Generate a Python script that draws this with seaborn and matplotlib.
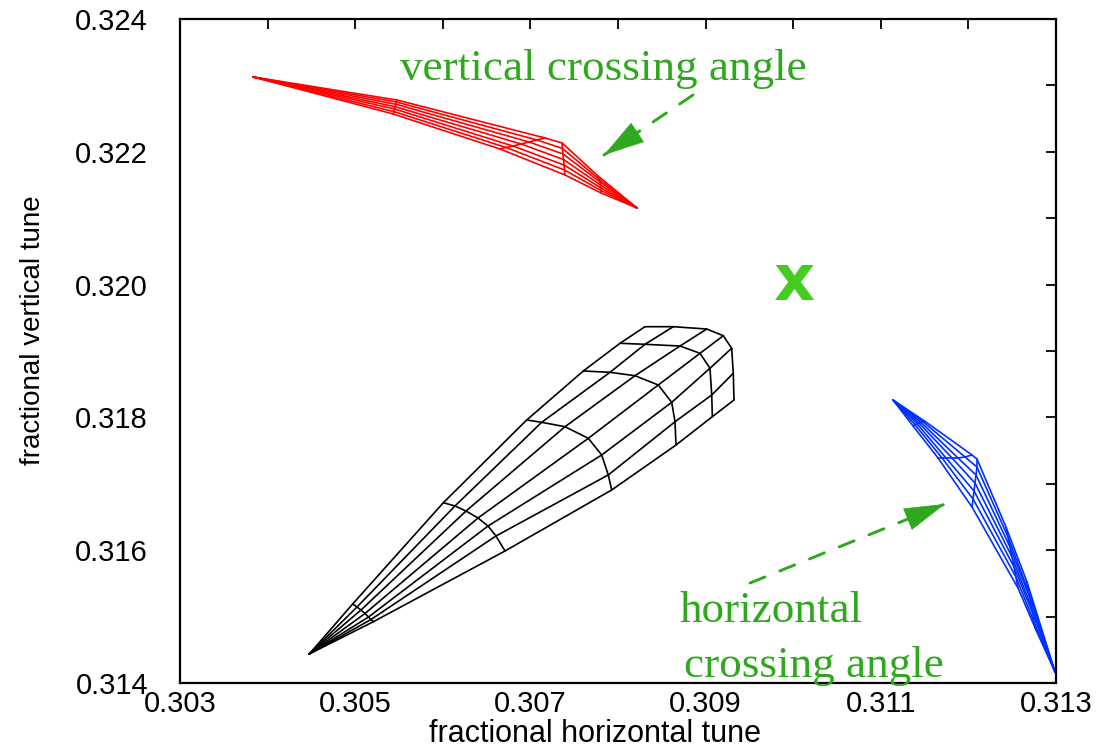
import matplotlib
matplotlib.use("Agg")
import matplotlib.pyplot as plt
import pandas as pd
import seaborn as sns

# ---------------- data ----------------
x_tick_values = [0.303, 0.305, 0.307, 0.309, 0.311, 0.313]
x_tick_labels = ["0.303", "0.305", "0.307", "0.309", "0.311", "0.313"]
x_minor_values = [0.304, 0.306, 0.308, 0.310, 0.312]
y_tick_values = [0.314, 0.316, 0.318, 0.320, 0.322, 0.324]
y_tick_labels = ["0.314", "0.316", "0.318", "0.320", "0.322", "0.324"]
y_minor_values = [0.315, 0.317, 0.319, 0.321, 0.323]

# footprints: each row is one amplitude arc, each column one angle ray
black_qx = [
    [0.304476] * 7,
    [0.304971, 0.305021, 0.305066, 0.305112, 0.305152, 0.305180, 0.305207],
    [0.306006, 0.306139, 0.306265, 0.306402, 0.306516, 0.306607, 0.306710],
    [0.306958, 0.307129, 0.307395, 0.307661, 0.307814, 0.307889, 0.307928],
    [0.307604, 0.307909, 0.308194, 0.308460, 0.308613, 0.308651, 0.308662],
    [0.308023, 0.308308, 0.308708, 0.308936, 0.309050, 0.309070, 0.309077],
    [0.308308, 0.308631, 0.309013, 0.309202, 0.309298, 0.309316, 0.309324],
]
black_qy = [
    [0.314437] * 7,
    [0.315190, 0.315145, 0.315099, 0.315047, 0.314994, 0.314956, 0.314923],
    [0.316715, 0.316666, 0.316590, 0.316485, 0.316364, 0.316214, 0.315988],
    [0.317961, 0.317926, 0.317860, 0.317685, 0.317434, 0.317133, 0.316907],
    [0.318699, 0.318679, 0.318628, 0.318488, 0.318227, 0.317935, 0.317584],
    [0.319116, 0.319101, 0.319075, 0.318965, 0.318740, 0.318337, 0.318011],
    [0.319366, 0.319366, 0.319331, 0.319230, 0.319041, 0.318664, 0.318262],
]

red_qx = [
    [0.303833] * 7,
    [0.305477, 0.305470, 0.305466, 0.305454, 0.305449, 0.305443, 0.305432],
    [0.307167, 0.307075, 0.306984, 0.306893, 0.306801, 0.306722, 0.306653],
    [0.307361, 0.307366, 0.307372, 0.307378, 0.307384, 0.307389, 0.307395],
    [0.307772, 0.307783, 0.307795, 0.307800, 0.307806, 0.307806, 0.307806],
    [0.308217] * 7,
]
red_qy = [
    [0.323127] * 7,
    [0.322780, 0.322750, 0.322715, 0.322680, 0.322645, 0.322605, 0.322570],
    [0.322208, 0.322178, 0.322148, 0.322118, 0.322087, 0.322065, 0.322042],
    [0.322133, 0.322050, 0.321967, 0.321884, 0.321801, 0.321726, 0.321651],
    [0.321636, 0.321590, 0.321545, 0.321500, 0.321455, 0.321417, 0.321380],
    [0.321154] * 7,
]

blue_qx = [
    [0.311139] * 7,
    [0.311505, 0.311482, 0.311459, 0.311436, 0.311413, 0.311390, 0.311368],
    [0.312041, 0.311961, 0.311881, 0.311813, 0.311744, 0.311699, 0.311653],
    [0.312098, 0.312098, 0.312087, 0.312075, 0.312064, 0.312053, 0.312041],
    [0.312429, 0.312452, 0.312475, 0.312498, 0.312521, 0.312543, 0.312566],
    [0.312669, 0.312680, 0.312703, 0.312715, 0.312737, 0.312749, 0.312772],
    [0.312989] * 7,
]
blue_qy = [
    [0.318262] * 7,
    [0.317940, 0.317935, 0.317925, 0.317915, 0.317905, 0.317890, 0.317871],
    [0.317434, 0.317404, 0.317389, 0.317389, 0.317389, 0.317389, 0.317389],
    [0.317373, 0.317253, 0.317133, 0.317012, 0.316892, 0.316771, 0.316651],
    [0.316349, 0.316199, 0.316048, 0.315898, 0.315747, 0.315596, 0.315431],
    [0.315521, 0.315401, 0.315280, 0.315160, 0.315039, 0.314919, 0.314798],
    [0.314166] * 7,
]

# nominal working point marker
nominal_qx = [0.310]
nominal_qy = [0.31977]

# annotation arrows: (start, end)
arrow_vertical = [(0.308856, 0.322855), (0.307840, 0.321952)]
arrow_horizontal = [(0.309507, 0.315506), (0.311733, 0.316696)]

# ---------------- build mesh segments ----------------
def mesh_rows(name, qx, qy, start):
    rows = []
    seg = start
    n_arc, n_ray = len(qx), len(qx[0])
    for j in range(n_ray):
        for i in range(n_arc):
            rows.append((name, seg, i, qx[i][j], qy[i][j]))
        seg += 1
    for i in range(1, n_arc):
        for j in range(n_ray):
            rows.append((name, seg, j, qx[i][j], qy[i][j]))
        seg += 1
    return rows, seg

rows = []
seg = 0
for name, qx, qy in [("black", black_qx, black_qy), ("red", red_qx, red_qy), ("blue", blue_qx, blue_qy)]:
    r, seg = mesh_rows(name, qx, qy, seg)
    rows += r
df = pd.DataFrame(rows, columns=["mesh", "seg", "k", "qx", "qy"])

# ---------------- plot ----------------
sns.set_theme(style="white")
plt.rcParams["font.family"] = ["Liberation Sans", "DejaVu Sans"]

fig = plt.figure(figsize=(11.06, 7.48), dpi=100)
ax = fig.add_axes([180 / 1106, 65 / 748, 876 / 1106, 664 / 748])

sns.lineplot(data=df, x="qx", y="qy", hue="mesh", units="seg", estimator=None,
             sort=False, palette={"black": "#000000", "red": "#ff0000", "blue": "#0030ff"},
             legend=False, linewidth=1.2, ax=ax)

text_green = "#2ea81c"
x_green = "#44cc22"
ax.text(nominal_qx[0], nominal_qy[0], "x", color=x_green, fontsize=46, fontweight="bold",
        ha="center", va="baseline", family="DejaVu Sans")

serif = "Liberation Serif"
ax.text(0.305511, 0.323081, "vertical crossing angle", color=text_green, fontsize=32.5,
        family=serif, ha="left", va="baseline")
ax.text(0.308708, 0.314919, "horizontal", color=text_green, fontsize=32.5,
        family=serif, ha="left", va="baseline")
ax.text(0.308753, 0.314090, "crossing angle", color=text_green, fontsize=32.5,
        family=serif, ha="left", va="baseline")

for (start, end) in [arrow_vertical, arrow_horizontal]:
    ax.annotate("", xy=end, xytext=start,
                arrowprops=dict(arrowstyle="-", color=text_green, lw=2.1,
                                linestyle=(0, (5.5, 5.5)), shrinkA=0, shrinkB=0))
    near = (start[0] + 0.8 * (end[0] - start[0]), start[1] + 0.8 * (end[1] - start[1]))
    ax.annotate("", xy=end, xytext=near,
                arrowprops=dict(arrowstyle="-|>,head_length=1.4,head_width=0.4",
                                color=text_green, lw=0.5, mutation_scale=20,
                                shrinkA=0, shrinkB=0))

ax.set_xlim(0.303, 0.313)
ax.set_ylim(0.314, 0.324)
ax.set_xticks(x_tick_values, labels=x_tick_labels)
ax.set_xticks(x_minor_values, minor=True)
ax.set_yticks(y_tick_values, labels=y_tick_labels)
ax.set_yticks(y_minor_values, minor=True)
ax.tick_params(which="both", direction="in", length=7, width=1.3, top=True, right=True,
               color="black")
ax.tick_params(axis="x", which="major", labelsize=21, pad=5, labelcolor="black")
ax.tick_params(axis="y", which="major", labelsize=21, pad=23, labelcolor="black")

ax.set_xlabel("fractional horizontal tune", fontsize=22, color="black", va="center")
ax.xaxis.set_label_coords((595 - 180) / 876, (683 - 734) / 664)
ax.set_ylabel("fractional vertical tune", fontsize=20, color="black", va="center")
ax.yaxis.set_label_coords((33 - 180) / 876, (683 - 330) / 664)

for s in ax.spines.values():
    s.set_color("black")
    s.set_linewidth(1.6)

fig.savefig("out.png", dpi=100)
